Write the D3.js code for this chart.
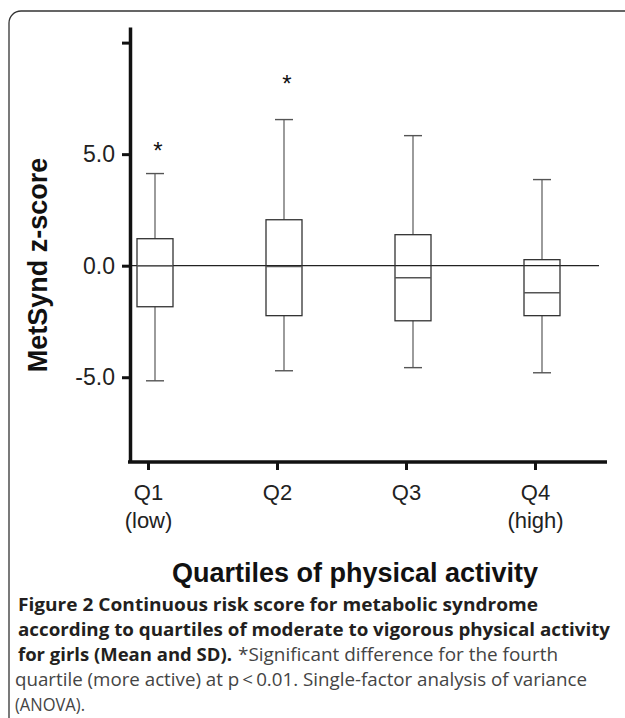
<!DOCTYPE html>
<html>
<head>
<meta charset="utf-8">
<script src="https://cdn.jsdelivr.net/npm/d3@7"></script>
<style>
  body { margin: 0; background: #fff; }
  svg { display: block; }
</style>
</head>
<body>
<svg width="625" height="718"></svg>
<script>
// data (mean / SD style box plot, z-score units)
const categories = ['Q1', 'Q2', 'Q3', 'Q4'];
const subLabels = ['(low)', '', '', '(high)'];
const whiskerHigh = [4.13, 6.55, 5.83, 3.86];
const boxHigh = [1.21, 2.06, 1.39, 0.27];
const medians = [0.0, -0.04, -0.54, -1.21];
const boxLow = [-1.84, -2.24, -2.47, -2.24];
const whiskerLow = [-5.16, -4.71, -4.57, -4.80];
const yTicks = [-5, 0, 5, 10];
const yTickLabels = ['-5.0', '0.0', '5.0', ''];
const starCats = ['Q1', 'Q2'];
const starValues = [5.4, 8.4];

const captionBold = [
  'Figure 2 Continuous risk score for metabolic syndrome',
  'according to quartiles of moderate to vigorous physical activity',
  'for girls (Mean and SD).'
];
const captionPlain = [
  '*Significant difference for the fourth',
  'quartile (more active) at p\u2009<\u20090.01. Single-factor analysis of variance',
  '(ANOVA).'
];

const svg = d3.select('svg');

const height = +svg.attr('height');
const width = +svg.attr('width');

const axisFont = '"Liberation Sans", Arial, Helvetica, sans-serif';
const capFont = '"Open Sans", "Noto Sans", sans-serif';

const x = d3.scalePoint().domain(categories).range([155, 542]);
const y = d3.scaleLinear().domain([-8.8, 10.7]).range([462, 27]);

const boxWidth = 36;
const capWidth = 18;
const tickShift = -7;

// frame, only top and left edges show
svg.append('path')
  .attr('d', `M9,${height}V23A12,12 0 0 1 21,11H${width}`)
  .attr('fill', 'none')
  .attr('stroke', '#333')
  .attr('stroke-width', 1.3);

const rows = categories.map((c, i) => ({
  c,
  wHi: whiskerHigh[i],
  bHi: boxHigh[i],
  med: medians[i],
  bLo: boxLow[i],
  wLo: whiskerLow[i]
}));

// zero reference line
svg.append('line')
  .attr('x1', 130)
  .attr('x2', 599)
  .attr('y1', y(0))
  .attr('y2', y(0))
  .attr('stroke', '#222')
  .attr('stroke-width', 1.3);

const boxes = svg.append('g')
  .selectAll('g')
  .data(rows)
  .join('g')
  .attr('transform', d => `translate(${x(d.c)},0)`);

boxes.append('line')
  .attr('y1', d => y(d.wHi))
  .attr('y2', d => y(d.bHi))
  .attr('stroke', '#666')
  .attr('stroke-width', 1.3);

boxes.append('line')
  .attr('y1', d => y(d.bLo))
  .attr('y2', d => y(d.wLo))
  .attr('stroke', '#666')
  .attr('stroke-width', 1.3);

boxes.append('line')
  .attr('x1', -capWidth / 2)
  .attr('x2', capWidth / 2)
  .attr('y1', d => y(d.wHi))
  .attr('y2', d => y(d.wHi))
  .attr('stroke', '#555')
  .attr('stroke-width', 1.4);

boxes.append('line')
  .attr('x1', -capWidth / 2)
  .attr('x2', capWidth / 2)
  .attr('y1', d => y(d.wLo))
  .attr('y2', d => y(d.wLo))
  .attr('stroke', '#555')
  .attr('stroke-width', 1.4);

boxes.append('rect')
  .attr('x', -boxWidth / 2)
  .attr('width', boxWidth)
  .attr('y', d => y(d.bHi))
  .attr('height', d => y(d.bLo) - y(d.bHi))
  .attr('fill', 'none')
  .attr('stroke', '#333')
  .attr('stroke-width', 1.3);

boxes.append('line')
  .attr('x1', -boxWidth / 2)
  .attr('x2', boxWidth / 2)
  .attr('y1', d => y(d.med))
  .attr('y2', d => y(d.med))
  .attr('stroke', '#555')
  .attr('stroke-width', 1.4);

// significance stars
svg.append('g')
  .selectAll('text')
  .data(starCats)
  .join('text')
  .attr('x', d => x(d) + 3)
  .attr('y', (d, i) => y(starValues[i]))
  .attr('dy', '0.57em')
  .attr('text-anchor', 'middle')
  .attr('font-family', axisFont)
  .attr('font-size', 24)
  .attr('fill', '#111')
  .text('*');

// y axis
const yAxis = svg.append('g')
  .attr('transform', 'translate(130,0)')
  .call(d3.axisLeft(y)
    .tickValues(yTicks)
    .tickFormat((d, i) => yTickLabels[i])
    .tickSize(8)
    .tickSizeOuter(0)
    .tickPadding(7));

yAxis.select('.domain')
  .attr('stroke', '#111')
  .attr('stroke-width', 3.5);
yAxis.selectAll('.tick line')
  .attr('stroke', '#111')
  .attr('stroke-width', 3);
yAxis.selectAll('.tick text')
  .attr('font-family', axisFont)
  .attr('font-size', 23)
  .attr('fill', '#222');

// x axis
const xAxis = svg.append('g')
  .attr('transform', `translate(${tickShift},462)`)
  .call(d3.axisBottom(x)
    .tickSize(8)
    .tickSizeOuter(0)
    .tickFormat(''));

xAxis.select('.domain').remove();
xAxis.selectAll('.tick line')
  .attr('stroke', '#111')
  .attr('stroke-width', 3);

svg.append('line')
  .attr('x1', 128)
  .attr('x2', 607)
  .attr('y1', 462)
  .attr('y2', 462)
  .attr('stroke', '#111')
  .attr('stroke-width', 3.5);

const xLabels = xAxis.selectAll('.tick')
  .append('g')
  .attr('font-family', axisFont)
  .attr('font-size', 22)
  .attr('fill', '#222')
  .attr('text-anchor', 'middle');

xLabels.append('text')
  .attr('y', 38)
  .text(d => d);

xLabels.append('text')
  .attr('y', 66)
  .text(d => subLabels[categories.indexOf(d)]);

// axis titles
svg.append('text')
  .attr('transform', 'translate(47,265) rotate(-90)')
  .attr('text-anchor', 'middle')
  .attr('font-family', axisFont)
  .attr('font-weight', 'bold')
  .attr('font-size', 27)
  .attr('fill', '#111')
  .text('MetSynd z-score');

svg.append('text')
  .attr('x', 355)
  .attr('y', 582)
  .attr('text-anchor', 'middle')
  .attr('font-family', axisFont)
  .attr('font-weight', 'bold')
  .attr('font-size', 27)
  .attr('fill', '#111')
  .text('Quartiles of physical activity');

// caption
const capLines = [
  { t: captionBold[0], x: 18, y: 611, w: 520, bold: true },
  { t: captionBold[1], x: 18, y: 636, w: 592, bold: true },
  { t: captionBold[2], x: 18, y: 661, w: 214, bold: true },
  { t: captionPlain[0], x: 238, y: 661, w: 320, bold: false },
  { t: captionPlain[1], x: 15, y: 686, w: 572, bold: false },
  { t: captionPlain[2], x: 15, y: 711, w: 70, bold: false }
];

svg.append('g')
  .selectAll('text')
  .data(capLines)
  .join('text')
  .attr('x', d => d.x)
  .attr('y', d => d.y)
  .attr('textLength', d => d.w)
  .attr('lengthAdjust', 'spacingAndGlyphs')
  .attr('font-family', capFont)
  .attr('font-size', 18)
  .attr('font-weight', d => d.bold ? 700 : 400)
  .attr('fill', d => d.bold ? '#231f20' : '#444')
  .text(d => d.t);
</script>
</body>
</html>
